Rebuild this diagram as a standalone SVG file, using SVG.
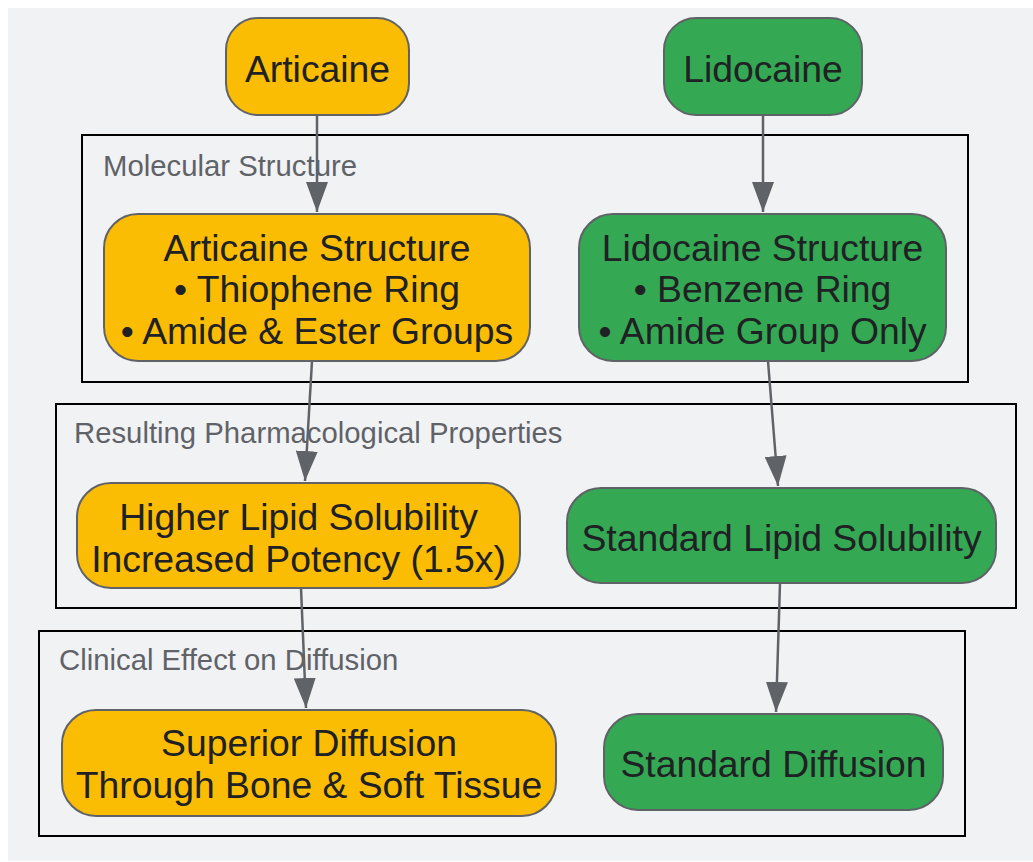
<svg xmlns="http://www.w3.org/2000/svg" width="1033" height="862" viewBox="0 0 1033 862">
<style>
.bg{fill:#f1f2f4}
.cluster{fill:#f1f2f4;stroke:#000;stroke-width:2}
.clabel{font-family:"Liberation Sans",Arial,sans-serif;font-size:29.3px;fill:#5f6368}
.orange{fill:#fbbc04;stroke:#5f6368;stroke-width:2}
.green{fill:#34a853;stroke:#5f6368;stroke-width:2}
.ntext{font-family:"Liberation Sans",Arial,sans-serif;font-size:37.3px;fill:#202124;text-anchor:middle}
.edge{fill:none;stroke:#5f6368;stroke-width:2.5}
</style>
<defs>
<marker id="arrow" viewBox="0 0 30 22" refX="30" refY="11" markerWidth="30" markerHeight="22" markerUnits="userSpaceOnUse" orient="auto">
<path d="M0,0 L30,11 L0,22 Z" fill="#5f6368"/>
</marker>
</defs>
<rect class="bg" x="8" y="8" width="1025" height="853"/>
<g id="cluster-molecular">
<rect class="cluster" x="82" y="135" width="886" height="247"/>
<text class="clabel" x="103" y="176">Molecular Structure</text>
</g>
<g id="cluster-properties">
<rect class="cluster" x="56" y="404" width="960" height="204"/>
<text class="clabel" x="74" y="443">Resulting Pharmacological Properties</text>
</g>
<g id="cluster-clinical">
<rect class="cluster" x="39" y="631" width="926" height="205"/>
<text class="clabel" x="59" y="670">Clinical Effect on Diffusion</text>
</g>
<g id="connectors">
<path class="edge" d="M317,115 L317,212" marker-end="url(#arrow)"/>
<path class="edge" d="M763,115 L763,212" marker-end="url(#arrow)"/>
<path class="edge" d="M312,361 L305,481" marker-end="url(#arrow)"/>
<path class="edge" d="M768,361 L778,486" marker-end="url(#arrow)"/>
<path class="edge" d="M301,588 L306,708" marker-end="url(#arrow)"/>
<path class="edge" d="M780,583 L776,712" marker-end="url(#arrow)"/>
</g>
<g id="node-articaine">
<rect class="orange" x="226" y="18" width="183" height="97" rx="32"/>
<text class="ntext" x="317.5" y="82">Articaine</text>
</g>
<g id="node-lidocaine">
<rect class="green" x="664" y="18" width="198" height="97" rx="32"/>
<text class="ntext" x="763" y="82">Lidocaine</text>
</g>
<g id="node-articaine-structure">
<rect class="orange" x="104" y="214" width="426" height="147" rx="34"/>
<text class="ntext" x="317" y="260.5">Articaine Structure</text>
<text class="ntext" x="317" y="302">• Thiophene Ring</text>
<text class="ntext" x="317" y="343.5">• Amide &amp; Ester Groups</text>
</g>
<g id="node-lidocaine-structure">
<rect class="green" x="579" y="214" width="367" height="147" rx="34"/>
<text class="ntext" x="762.5" y="260.5">Lidocaine Structure</text>
<text class="ntext" x="762.5" y="302">• Benzene Ring</text>
<text class="ntext" x="762.5" y="343.5">• Amide Group Only</text>
</g>
<g id="node-higher-lipid">
<rect class="orange" x="77" y="483" width="443" height="105" rx="34"/>
<text class="ntext" x="298.5" y="530">Higher Lipid Solubility</text>
<text class="ntext" x="298.5" y="571.5">Increased Potency (1.5x)</text>
</g>
<g id="node-standard-lipid">
<rect class="green" x="567" y="488" width="429" height="95" rx="34"/>
<text class="ntext" x="781.5" y="551">Standard Lipid Solubility</text>
</g>
<g id="node-superior-diffusion">
<rect class="orange" x="62" y="710" width="494" height="106" rx="34"/>
<text class="ntext" x="309" y="756">Superior Diffusion</text>
<text class="ntext" x="309" y="798">Through Bone &amp; Soft Tissue</text>
</g>
<g id="node-standard-diffusion">
<rect class="green" x="604" y="714" width="339" height="96" rx="34"/>
<text class="ntext" x="773.5" y="777">Standard Diffusion</text>
</g>
</svg>
